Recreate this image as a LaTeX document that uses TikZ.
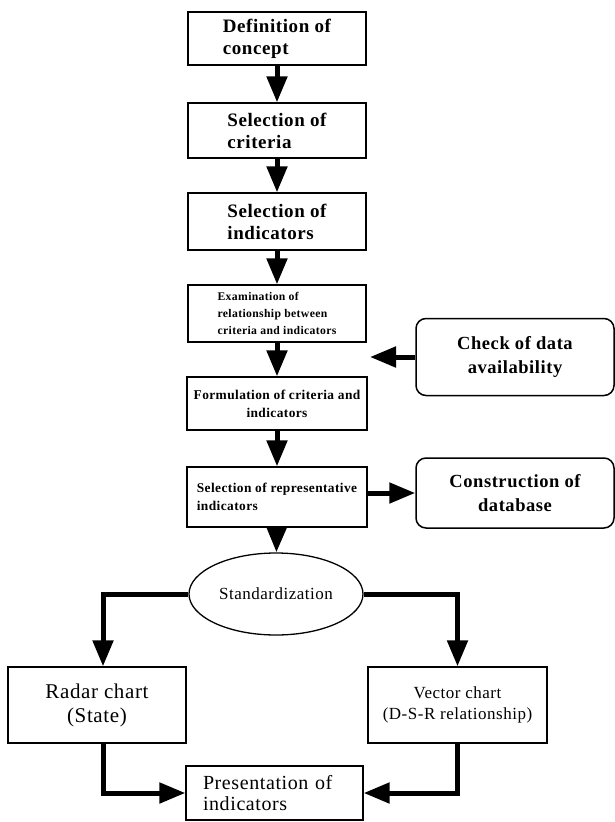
\documentclass[tikz,border=0pt]{standalone}
\usepackage{fontspec}
\setmainfont[LetterSpace=3]{Liberation Serif}
\usetikzlibrary{arrows.meta,shapes.geometric,calc}
\begin{document}
\begin{tikzpicture}[x=1pt,y=-1pt,
  box/.style={draw, line width=1.3pt, rectangle, inner sep=0pt, minimum width=178pt},
  rbox/.style={draw, line width=1.5pt, rectangle, rounded corners=10pt, inner sep=0pt, minimum width=198pt, align=center, font=\fontsize{18.5}{24}\selectfont\bfseries},
  bigtxt/.style={font=\fontsize{19}{22}\selectfont\bfseries, align=left},
  smalltxt/.style={font=\fontsize{13.4}{18}\selectfont\bfseries},
  arr/.style={line width=5pt, -{Triangle[length=26pt,width=20pt]}},
]
\useasboundingbox (0,0) rectangle (615,822);

\node[box, bigtxt, minimum height=53pt] (b1) at (277,38.5) {Definition of\\concept};
\node[box, bigtxt, minimum height=55pt] (b2) at (277,130.5) {Selection of\\criteria};
\node[box, bigtxt, minimum height=57pt] (b3) at (277,221.5) {Selection of\\indicators};
\node[box, align=left, font=\fontsize{11.7}{17}\selectfont\bfseries, minimum height=57pt] (b4) at (277,313.5) {Examination of\\relationship between\\criteria and indicators};
\node[box, smalltxt, align=center, minimum width=180pt, minimum height=53pt] (b5) at (277,403.5) {Formulation of criteria and\\indicators};
\node[box, smalltxt, align=left, minimum width=180pt, minimum height=60pt] (b6) at (277,497) {Selection of representative\\indicators};

\node[rbox, minimum height=77pt] (check) at (515,357) {Check of data\\availability};
\node[rbox, minimum height=70pt] (cons) at (515,493) {Construction of\\database};

\node[draw, line width=1.3pt, ellipse, minimum width=174pt, minimum height=82pt, inner sep=0pt,
      font=\fontsize{17}{20}\selectfont] (std) at (276,594) {Standardization};

\node[box, align=center, minimum height=76pt, font=\fontsize{21}{24}\selectfont] (radar) at (97,705) {Radar chart\\(State)};
\node[box, align=center, minimum width=179pt, minimum height=76pt, font=\fontsize{17}{21}\selectfont] (vec) at (457.5,705) {Vector chart\\(D-S-R relationship)};
\node[box, align=left, text width=143pt, minimum width=177pt, minimum height=54pt, font=\fontsize{20}{21}\selectfont] (pres) at (274.5,793) {Presentation of\\indicators};

\draw[arr] (b1) -- (b2);
\draw[arr] (b2) -- (b3);
\draw[arr] (b3) -- (b4);
\draw[arr] (b4) -- (b5);
\draw[arr] (b5) -- (b6);
\draw[arr] (b6) -- (std);

\coordinate (ct) at (370,357);
\draw[arr] (check.west) -- (ct);
\draw[arr] (b6.east |- cons.west) -- (cons.west);

\draw[arr] (std.west) -| ([xshift=6pt]radar.north);
\draw[arr] (std.east) -| (vec.north);
\draw[arr] ([xshift=6pt]radar.south) |- (pres.west);
\draw[arr] (vec.south) |- (pres.east);
\end{tikzpicture}
\end{document}
